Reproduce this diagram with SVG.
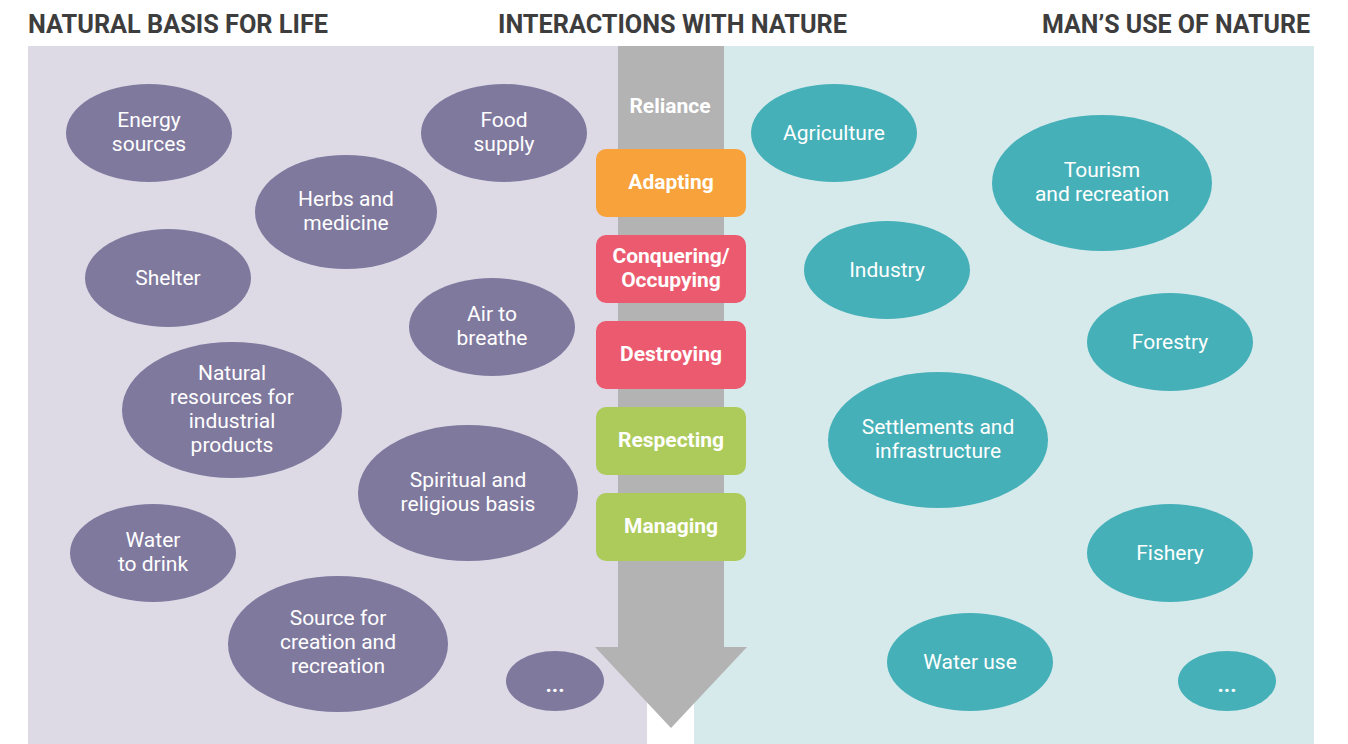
<svg xmlns="http://www.w3.org/2000/svg" width="1348" height="744" viewBox="0 0 1348 744">
<style>
.hd{font-family:Roboto,"Liberation Sans",sans-serif;font-weight:700;font-size:25px;fill:#3d3d3d}
.pu{fill:#7f799e}
.te{fill:#46b0b8}
.lb{font-family:Roboto,"Liberation Sans",sans-serif;font-size:21px;fill:#ffffff;text-anchor:middle}
.bx{font-family:Roboto,"Liberation Sans",sans-serif;font-size:21px;font-weight:700;fill:#ffffff;text-anchor:middle}
.dots{font-family:Roboto,"Liberation Sans",sans-serif;font-size:22px;font-weight:700;fill:#ffffff;text-anchor:middle}
</style>
<rect width="1348" height="744" fill="#ffffff"/>
<g id="headings">
<text class="hd" x="28" y="33" textLength="300" lengthAdjust="spacingAndGlyphs">NATURAL BASIS FOR LIFE</text>
<text class="hd" x="498" y="33" textLength="349" lengthAdjust="spacingAndGlyphs">INTERACTIONS WITH NATURE</text>
<text class="hd" x="1042" y="33" textLength="268" lengthAdjust="spacingAndGlyphs">MAN’S USE OF NATURE</text>
</g>
<g id="panels">
<rect x="28" y="46" width="619" height="698" fill="#dddae6"/>
<rect x="694" y="46" width="620" height="698" fill="#d6eaec"/>
</g>
<g id="arrow">
<path d="M618 46 H724 V647 H747 L671 728 L595 647 H618 Z" fill="#b3b3b3"/>
<text x="670" y="113" class="bx" fill="#f2f2f2">Reliance</text>
</g>
<g id="adapting"><rect x="596" y="149" width="150" height="68" rx="10" fill="#f7a23b"/><text class="bx" x="671" y="189">Adapting</text></g>
<g id="conquering"><rect x="596" y="235" width="150" height="68" rx="10" fill="#eb5a6e"/><text class="bx" x="671" y="263">Conquering/</text><text class="bx" x="671" y="287">Occupying</text></g>
<g id="destroying"><rect x="596" y="321" width="150" height="68" rx="10" fill="#eb5a6e"/><text class="bx" x="671" y="361">Destroying</text></g>
<g id="respecting"><rect x="596" y="407" width="150" height="68" rx="10" fill="#adcb5a"/><text class="bx" x="671" y="447">Respecting</text></g>
<g id="managing"><rect x="596" y="493" width="150" height="68" rx="10" fill="#adcb5a"/><text class="bx" x="671" y="533">Managing</text></g>

<g id="energy"><ellipse class="pu" cx="149" cy="133" rx="83" ry="49"/><text class="lb" x="149" y="127">Energy</text><text class="lb" x="149" y="151">sources</text></g>
<g id="food"><ellipse class="pu" cx="504" cy="133" rx="83" ry="49"/><text class="lb" x="504" y="127">Food</text><text class="lb" x="504" y="151">supply</text></g>
<g id="herbs"><ellipse class="pu" cx="346" cy="212" rx="91" ry="57"/><text class="lb" x="346" y="206">Herbs and</text><text class="lb" x="346" y="230">medicine</text></g>
<g id="shelter"><ellipse class="pu" cx="168" cy="278" rx="83" ry="49"/><text class="lb" x="168" y="285">Shelter</text></g>
<g id="air"><ellipse class="pu" cx="492" cy="327" rx="83" ry="49"/><text class="lb" x="492" y="321">Air to</text><text class="lb" x="492" y="345">breathe</text></g>
<g id="natural"><ellipse class="pu" cx="232" cy="410" rx="110" ry="68"/><text class="lb" x="232" y="380">Natural</text><text class="lb" x="232" y="404">resources for</text><text class="lb" x="232" y="428">industrial</text><text class="lb" x="232" y="452">products</text></g>
<g id="spiritual"><ellipse class="pu" cx="468" cy="493" rx="110" ry="68"/><text class="lb" x="468" y="487">Spiritual and</text><text class="lb" x="468" y="511">religious basis</text></g>
<g id="water"><ellipse class="pu" cx="153" cy="553" rx="83" ry="49"/><text class="lb" x="153" y="547">Water</text><text class="lb" x="153" y="571">to drink</text></g>
<g id="source"><ellipse class="pu" cx="338" cy="644" rx="110" ry="68"/><text class="lb" x="338" y="625">Source for</text><text class="lb" x="338" y="649">creation and</text><text class="lb" x="338" y="673">recreation</text></g>
<g id="more-left"><ellipse class="pu" cx="555" cy="681" rx="49" ry="30"/><text class="dots" x="555" y="692">...</text></g>

<g id="agriculture"><ellipse class="te" cx="834" cy="133" rx="83" ry="49"/><text class="lb" x="834" y="140">Agriculture</text></g>
<g id="tourism"><ellipse class="te" cx="1102" cy="183" rx="110" ry="68"/><text class="lb" x="1102" y="177">Tourism</text><text class="lb" x="1102" y="201">and recreation</text></g>
<g id="industry"><ellipse class="te" cx="887" cy="270" rx="83" ry="49"/><text class="lb" x="887" y="277">Industry</text></g>
<g id="forestry"><ellipse class="te" cx="1170" cy="342" rx="83" ry="49"/><text class="lb" x="1170" y="349">Forestry</text></g>
<g id="settlements"><ellipse class="te" cx="938" cy="440" rx="110" ry="68"/><text class="lb" x="938" y="434">Settlements and</text><text class="lb" x="938" y="458">infrastructure</text></g>
<g id="fishery"><ellipse class="te" cx="1170" cy="553" rx="83" ry="49"/><text class="lb" x="1170" y="560">Fishery</text></g>
<g id="wateruse"><ellipse class="te" cx="970" cy="662" rx="83" ry="49"/><text class="lb" x="970" y="669">Water use</text></g>
<g id="more-right"><ellipse class="te" cx="1227" cy="681" rx="49" ry="30"/><text class="dots" x="1227" y="692">...</text></g>
<g id="connectors"/>
</svg>
